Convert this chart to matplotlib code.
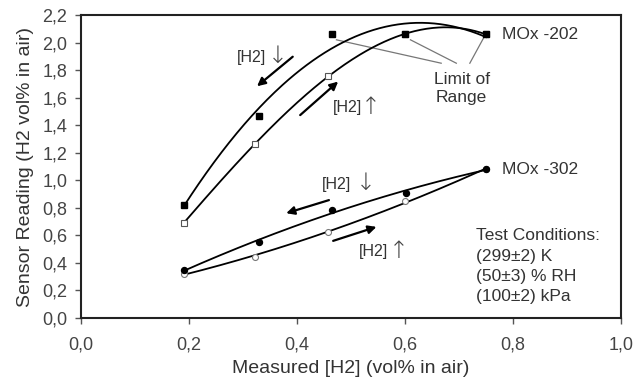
import numpy as np
import matplotlib
matplotlib.use("Agg")
import matplotlib.pyplot as plt

plt.rcParams["font.family"] = ["Liberation Sans", "DejaVu Sans"]

# MOx-202, concentration decreasing (filled) and increasing (open)
x202_dn = [0.19, 0.33, 0.464, 0.60, 0.75]
y202_dn = [0.82, 1.47, 2.06, 2.06, 2.06]
x202_up = [0.19, 0.322, 0.458, 0.60, 0.75]
y202_up = [0.69, 1.26, 1.76, 2.06, 2.06]

# MOx-302
x302_dn = [0.19, 0.33, 0.464, 0.602, 0.75]
y302_dn = [0.345, 0.555, 0.785, 0.91, 1.08]
x302_up = [0.19, 0.322, 0.458, 0.60, 0.75]
y302_up = [0.32, 0.445, 0.625, 0.85, 1.08]

xticks = [0.0, 0.2, 0.4, 0.6, 0.8, 1.0]
yticks = [0.0, 0.2, 0.4, 0.6, 0.8, 1.0, 1.2, 1.4, 1.6, 1.8, 2.0, 2.2]

txt = "#333333"

fig = plt.figure(figsize=(6.35, 3.82), dpi=100)
ax = fig.add_axes([0.1276, 0.1675, 0.8504, 0.7932])

# trendlines
def trend(x, y, deg):
    p = np.polyfit(x, y, deg)
    xs = np.linspace(min(x), max(x), 200)
    ax.plot(xs, np.polyval(p, xs), color="black", lw=1.3, zorder=2)

trend(x202_dn, y202_dn, 2)
trend(x202_up, y202_up, 3)
trend(x302_dn, y302_dn, 2)
trend(x302_up, y302_up, 2)

ax.plot(x202_up, y202_up, "s", ms=4.5, mfc="white", mec="#555555", mew=0.8, zorder=3)
ax.plot(x202_dn, y202_dn, "s", ms=4.8, color="black", zorder=4)
ax.plot(x302_up, y302_up, "o", ms=4.3, mfc="white", mec="#777777", mew=0.8, zorder=3)
ax.plot(x302_dn, y302_dn, "o", ms=4.3, color="black", zorder=4)

# direction arrows
arr = dict(arrowstyle="-|>", color="black", lw=1.6, mutation_scale=12)
ax.annotate("", xy=(0.322, 1.67), xytext=(0.396, 1.91), arrowprops=arr)
ax.annotate("", xy=(0.48, 1.73), xytext=(0.402, 1.46), arrowprops=arr)
ax.annotate("", xy=(0.375, 0.755), xytext=(0.464, 0.862), arrowprops=arr)
ax.annotate("", xy=(0.552, 0.668), xytext=(0.462, 0.554), arrowprops=arr)

h2 = dict(fontsize=11.5, color=txt, ha="center", va="center")
ar = dict(fontsize=17, color="#444444", ha="center", va="center", family="DejaVu Sans",
          fontweight="light")
ax.text(0.315, 1.895, "[H2]", **h2)
ax.text(0.364, 1.90, "\u2193", **ar)
ax.text(0.493, 1.525, "[H2]", **h2)
ax.text(0.536, 1.53, "\u2191", **ar)
ax.text(0.474, 0.973, "[H2]", **h2)
ax.text(0.528, 0.98, "\u2193", **ar)
ax.text(0.541, 0.48, "[H2]", **h2)
ax.text(0.589, 0.485, "\u2191", **ar)

# limit of range callouts
for px, py, tx in [(0.473, 2.02, 0.667), (0.61, 2.02, 0.695), (0.745, 2.03, 0.72)]:
    ax.plot([px, tx], [py, 1.85], color="#777777", lw=0.9, zorder=1)
ax.text(0.705, 1.665, "Limit of\nRange", fontsize=12.5, color=txt, ha="center", va="center",
        linespacing=1.2)

ax.text(0.78, 2.06, "MOx -202", fontsize=12.5, color=txt, ha="left", va="center")
ax.text(0.78, 1.08, "MOx -302", fontsize=12.5, color=txt, ha="left", va="center")

ax.text(0.731, 0.65, "Test Conditions:\n(299\u00b12) K\n(50\u00b13) % RH\n(100\u00b12) kPa",
        fontsize=12.5, color=txt, ha="left", va="top", linespacing=1.42)

ax.set_xlim(0, 1.0)
ax.set_ylim(0, 2.2)
ax.set_xticks(xticks)
ax.set_yticks(yticks)
ax.set_xticklabels([f"{v:.1f}".replace(".", ",") for v in xticks])
ax.set_yticklabels([f"{v:.1f}".replace(".", ",") for v in yticks])
ax.tick_params(direction="out", length=4, width=1, colors="#555555", labelsize=13,
               labelcolor="#444444")
ax.tick_params(axis="x", pad=9)
ax.tick_params(axis="y", pad=6)
for s in ax.spines.values():
    s.set_linewidth(1.5)
    s.set_color("#222222")

ax.set_xlabel("Measured [H2] (vol% in air)", fontsize=14, color=txt, labelpad=5)
ax.set_ylabel("Sensor Reading (H2 vol% in air)", fontsize=14, color=txt, labelpad=6)

fig.savefig("out.png", dpi=100)
